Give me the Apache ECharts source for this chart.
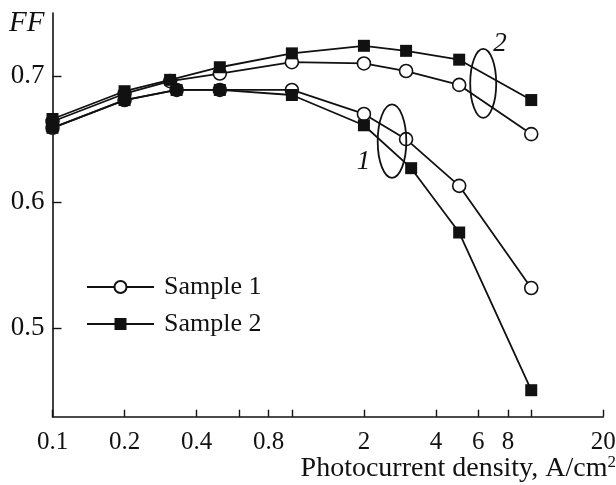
<!DOCTYPE html>
<html><head><meta charset="utf-8">
<script src="https://cdn.jsdelivr.net/npm/echarts@6/dist/echarts.min.js"></script>
<style>html,body{margin:0;padding:0;background:#fff}#c{width:616px;height:485px}</style>
</head><body><div id="c"></div>
<script>
// ---- data (photocurrent density A/cm^2 vs FF) ----
const xCurve2 = [0.1, 0.2, 0.31, 0.5, 1, 2, 3, 5, 10];
const sample1Curve2 = [0.664, 0.686, 0.696, 0.702, 0.711, 0.710, 0.704, 0.693, 0.654];
const sample2Curve2 = [0.666, 0.688, 0.697, 0.707, 0.718, 0.724, 0.720, 0.713, 0.681];
const xSample1Curve1 = [0.1, 0.2, 0.33, 0.5, 1, 2, 3, 5, 10];
const sample1Curve1 = [0.659, 0.681, 0.689, 0.689, 0.689, 0.670, 0.650, 0.613, 0.532];
const xSample2Curve1 = [0.1, 0.2, 0.33, 0.5, 1, 2, 3.15, 5, 10];
const sample2Curve1 = [0.659, 0.681, 0.689, 0.689, 0.685, 0.661, 0.627, 0.576, 0.451];
const xTickValues = [0.1, 0.2, 0.4, 0.6, 0.8, 1, 2, 4, 6, 8, 10, 20];
const xLabelValues = [0.1, 0.2, 0.4, 0.8, 2, 4, 6, 8, 20];
const yTickValues = [0.5, 0.6, 0.7];
const legendNames = ['Sample 1', 'Sample 2'];
const curveLabels = ['1', '2'];
// annotation ellipse centres (data coords)
const ellipseCentres = [[2.62, 0.6484], [6.3, 0.6942]];
const curveLabelPos = [[1.99, 0.6317], [7.41, 0.7257]];

const FONT = 'Liberation Serif';
const zip = (xs, ys) => xs.map((x, i) => [x, ys[i]]);

const circleStyle = {
  type: 'line', name: legendNames[0], symbol: 'circle', symbolSize: 13,
  lineStyle: { color: '#111', width: 1.8 },
  itemStyle: { color: '#fff', borderColor: '#111', borderWidth: 1.6 },
  emphasis: { disabled: true }, z: 2
};
const squareStyle = {
  type: 'line', name: legendNames[1], symbol: 'rect', symbolSize: 12,
  lineStyle: { color: '#111', width: 1.8 },
  itemStyle: { color: '#111' },
  emphasis: { disabled: true }, z: 3
};

const chart = echarts.init(document.getElementById('c'), null, { renderer: 'canvas' });
const option = {
  animation: false,
  backgroundColor: '#fff',
  grid: { left: 52.5, right: 12.7, top: 13, bottom: 68.3, containLabel: false, outerBoundsMode: 'none' },
  legend: {
    data: legendNames, orient: 'vertical', left: 86, top: 274, padding: 0,
    itemWidth: 67, itemHeight: 15, itemGap: 11,
    textStyle: { fontFamily: FONT, fontSize: 26, color: '#111', padding: [0, 0, 0, 5] },
    selectedMode: false
  },
  xAxis: {
    type: 'log', logBase: 10, min: 0.1, max: 20,
    axisLine: { lineStyle: { color: '#111', width: 1.6 } },
    axisTick: { inside: true, length: 7, lineStyle: { color: '#111', width: 1.4 }, customValues: xTickValues },
    axisLabel: { customValues: xLabelValues, margin: 13, color: '#111', fontFamily: FONT, fontSize: 25,
      formatter: v => String(+(+v).toPrecision(3)) },
    splitLine: { show: false }, minorTick: { show: false }
  },
  yAxis: {
    type: 'value', min: 0.43, max: 0.75,
    axisLine: { show: true, lineStyle: { color: '#111', width: 1.6 } },
    axisTick: { show: true, inside: true, length: 9, lineStyle: { color: '#111', width: 1.4 }, customValues: yTickValues },
    axisLabel: { customValues: yTickValues, margin: 8, color: '#111', fontFamily: FONT, fontSize: 27,
      formatter: v => (+v).toFixed(1) },
    splitLine: { show: false }
  },
  series: [
    Object.assign({}, circleStyle, { data: zip(xCurve2, sample1Curve2) }),
    Object.assign({}, circleStyle, { data: zip(xSample1Curve1, sample1Curve1) }),
    Object.assign({}, squareStyle, { data: zip(xCurve2, sample2Curve2) }),
    Object.assign({}, squareStyle, { data: zip(xSample2Curve1, sample2Curve1) })
  ]
};
chart.setOption(option);

function drawAnnotations() {
  const toPx = p => chart.convertToPixel({ xAxisIndex: 0, yAxisIndex: 0 }, p);
  const g = [];
  const radii = [[14.3, 36.7], [13, 34.5]];
  ellipseCentres.forEach((c, i) => {
    const p = toPx(c);
    g.push({ type: 'ellipse', shape: { cx: p[0], cy: p[1], rx: radii[i][0], ry: radii[i][1] },
      style: { fill: 'none', stroke: '#111', lineWidth: 1.8 }, z: 10 });
  });
  curveLabelPos.forEach((c, i) => {
    const p = toPx(c);
    g.push({ type: 'text', x: p[0], y: p[1], z: 10,
      style: { text: curveLabels[i], font: 'italic 27px "' + FONT + '"', fill: '#111', align: 'center', verticalAlign: 'middle' } });
  });
  g.push({ type: 'text', x: 9, y: 23, z: 10,
    style: { text: 'FF', font: 'italic 29px "' + FONT + '"', fill: '#111', align: 'left', verticalAlign: 'middle' } });
  g.push({ type: 'text', x: 616, y: 469, z: 10,
    style: { text: '{n|Photocurrent density, A/cm}{s|2}', align: 'right', verticalAlign: 'middle', fill: '#111',
      rich: { n: { fontFamily: FONT, fontSize: 28, fill: '#111' },
              s: { fontFamily: FONT, fontSize: 17, fill: '#111', verticalAlign: 'bottom', padding: [0, 0, 13, 0] } } } });
  chart.setOption({ graphic: g });
}
drawAnnotations();
</script></body></html>
